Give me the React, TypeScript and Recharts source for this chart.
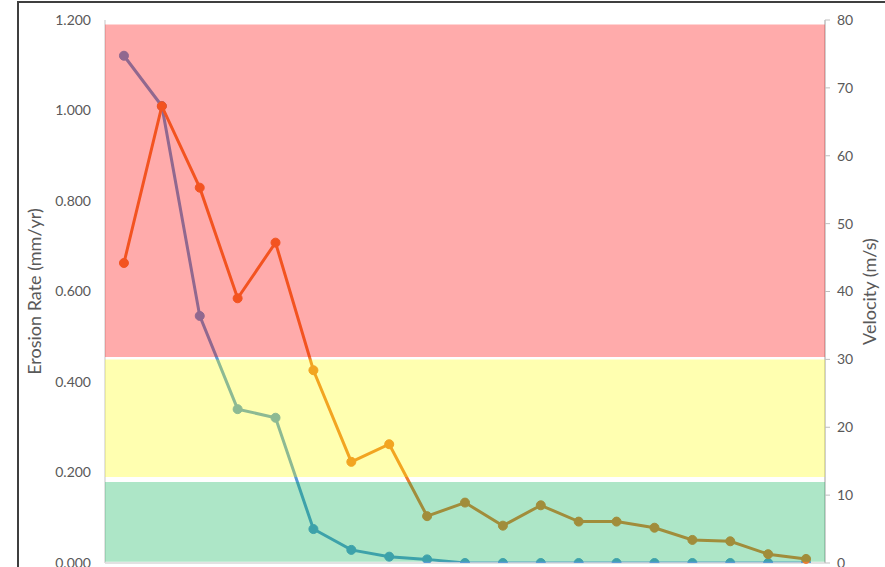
import React from 'react';
import {
  ComposedChart,
  Line,
  XAxis,
  YAxis,
  ReferenceArea,
  Label,
} from 'recharts';

// Sample positions along the run (not labelled on the axis)
const samples = ['1', '2', '3', '4', '5', '6', '7', '8', '9', '10', '11', '12', '13', '14', '15', '16', '17', '18', '19'];

// Erosion rate (mm/yr), left axis
const erosionRate = [1.121, 1.01, 0.546, 0.34, 0.321, 0.075, 0.029, 0.014, 0.008, 0, 0, 0, 0, 0, 0, 0, 0, 0, 0];

// Velocity (m/s), right axis
const velocity = [44.2, 67.3, 55.3, 39.0, 47.2, 28.4, 14.9, 17.5, 6.9, 8.9, 5.5, 8.5, 6.1, 6.1, 5.2, 3.4, 3.2, 1.3, 0.6];

// Risk zones on the erosion-rate scale [lower, upper]
const highZone = [0.455, 1.19];
const mediumZone = [0.19, 0.45];
const lowZone = [0.003, 0.179];

const erosionTicks = [0, 0.2, 0.4, 0.6, 0.8, 1.0, 1.2];
const velocityTicks = [0, 10, 20, 30, 40, 50, 60, 70, 80];

const data = samples.map((s, i) => ({
  sample: s,
  erosion: erosionRate[i],
  velocity: velocity[i],
}));

const FONT = 'Lato, "Open Sans", sans-serif';
const TEXT = '#595959';

const LeftTitle = (props: any) => {
  const vb = props.viewBox || {};
  const cx = vb.x + 34;
  const cy = vb.y + vb.height / 2;
  return (
    <text
      x={cx}
      y={cy}
      transform={`rotate(-90 ${cx} ${cy})`}
      textAnchor="middle"
      dominantBaseline="central"
      fill={TEXT}
      fontFamily={FONT}
      fontSize={18}
    >
      Erosion Rate (mm/yr)
    </text>
  );
};

const RightTitle = (props: any) => {
  const vb = props.viewBox || {};
  const cx = vb.x + 44;
  const cy = vb.y + vb.height / 2;
  return (
    <text
      x={cx}
      y={cy}
      transform={`rotate(-90 ${cx} ${cy})`}
      textAnchor="middle"
      dominantBaseline="central"
      fill={TEXT}
      fontFamily={FONT}
      fontSize={18}
    >
      Velocity (m/s)
    </text>
  );
};

export default function App() {
  return (
    <div
      style={{
        position: 'absolute',
        left: 0,
        top: 0,
        width: 885,
        height: 567,
        overflow: 'hidden',
        background: '#ffffff',
      }}
    >
      <div
        style={{
          position: 'absolute',
          left: 17,
          top: 1,
          width: 900,
          height: 620,
          borderTop: '2px solid #3f3f3f',
          borderLeft: '2px solid #3f3f3f',
        }}
      />
      <div style={{ position: 'absolute', left: 0, top: 0 }}>
        <ComposedChart
          width={885}
          height={600}
          data={data}
          margin={{ top: 20, right: 0, bottom: 7, left: 0 }}
        >
          <XAxis
            dataKey="sample"
            xAxisId={0}
            scale="band"
            tick={false}
            tickLine={false}
            height={30}
            axisLine={{ stroke: '#d9d9d9', strokeWidth: 1.5 }}
          />
          <YAxis
            yAxisId="left"
            orientation="left"
            width={105}
            domain={[0, 1.2]}
            ticks={erosionTicks}
            tickFormatter={(v: number) => v.toFixed(3)}
            tickLine={false}
            tickSize={0}
            tickMargin={14}
            axisLine={{ stroke: '#d9d9d9', strokeWidth: 1.5 }}
            tick={{ fill: TEXT, fontFamily: FONT, fontSize: 14 }}
            allowDataOverflow
          >
            <Label content={<LeftTitle />} />
          </YAxis>
          <YAxis
            yAxisId="right"
            orientation="right"
            width={60}
            domain={[0, 80]}
            ticks={velocityTicks}
            tickSize={5}
            tickMargin={7}
            tickLine={{ stroke: '#bfbfbf' }}
            axisLine={{ stroke: '#bfbfbf', strokeWidth: 1.5 }}
            tick={{ fill: TEXT, fontFamily: FONT, fontSize: 14 }}
          >
            <Label content={<RightTitle />} />
          </YAxis>

          <Line
            yAxisId="left"
            type="linear"
            dataKey="erosion"
            stroke="#5b9bd5"
            strokeWidth={3}
            dot={{ r: 4.5, fill: '#5b9bd5', stroke: '#5b9bd5', strokeWidth: 1 }}
            activeDot={false}
            isAnimationActive={false}
          />
          <Line
            yAxisId="right"
            type="linear"
            dataKey="velocity"
            stroke="#ed7d31"
            strokeWidth={3}
            dot={{ r: 4.5, fill: '#ed7d31', stroke: '#ed7d31', strokeWidth: 1 }}
            activeDot={false}
            isAnimationActive={false}
          />

          {/* translucent risk zones laid over the series and their markers */}
          <ReferenceArea
            yAxisId="left"
            y1={highZone[0]}
            y2={highZone[1]}
            fill="#ff0000"
            fillOpacity={0.33}
            stroke="none"
            zIndex={1500}
          />
          <ReferenceArea
            yAxisId="left"
            y1={mediumZone[0]}
            y2={mediumZone[1]}
            fill="#ffff00"
            fillOpacity={0.31}
            stroke="none"
            zIndex={1500}
          />
          <ReferenceArea
            yAxisId="left"
            y1={lowZone[0]}
            y2={lowZone[1]}
            fill="#00b050"
            fillOpacity={0.32}
            stroke="none"
            zIndex={1500}
          />
        </ComposedChart>
      </div>
    </div>
  );
}
